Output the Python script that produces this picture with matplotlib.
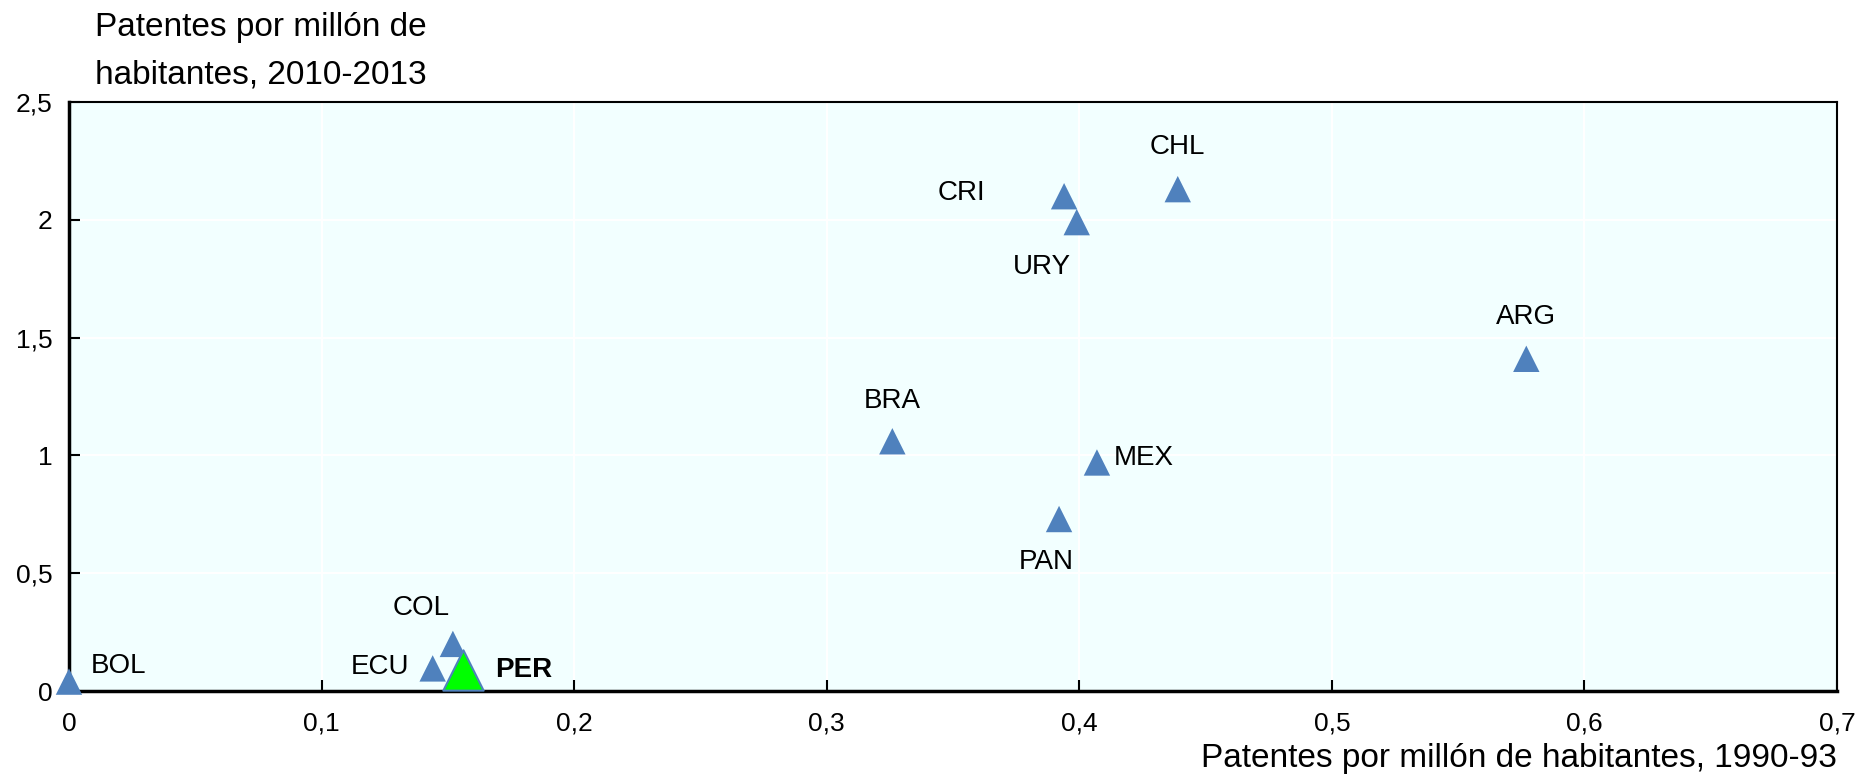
import matplotlib
matplotlib.use("Agg")
import matplotlib.pyplot as plt
from matplotlib import font_manager

names = {f.name for f in font_manager.fontManager.ttflist}
fam = "Liberation Sans Narrow" if "Liberation Sans Narrow" in names else "Liberation Sans"
plt.rcParams['font.family'] = [fam, 'DejaVu Sans']

countries = ["BOL", "ECU", "COL", "BRA", "CRI", "URY", "CHL", "MEX", "PAN", "ARG"]
x_1990 = [0.0, 0.144, 0.152, 0.326, 0.394, 0.399, 0.439, 0.407, 0.392, 0.577]
y_2010 = [0.04, 0.096, 0.20, 1.06, 2.10, 1.99, 2.13, 0.97, 0.73, 1.41]
label_offsets = [(36, 11), (-38, 1), (-23, 26), (0, 29), (-74, 2), (-25, -32), (0, 30), (34, 3), (-9, -31), (0, 30)]

per_name = "PER"
per_x = 0.156
per_y = 0.09

xticks = [0, 0.1, 0.2, 0.3, 0.4, 0.5, 0.6, 0.7]
xticklabels = ["0", "0,1", "0,2", "0,3", "0,4", "0,5", "0,6", "0,7"]
yticks = [0, 0.5, 1, 1.5, 2, 2.5]
yticklabels = ["0", "0,5", "1", "1,5", "2", "2,5"]

fig = plt.figure(figsize=(18.64, 7.76), dpi=100)
ax = fig.add_axes([0.037, 0.1095, 0.9485, 0.7591])
ax.set_facecolor('#F2FFFF')
ax.set_xlim(0, 0.7)
ax.set_ylim(0, 2.5)
ax.set_xticks(xticks)
ax.set_xticklabels(xticklabels)
ax.set_yticks(yticks)
ax.set_yticklabels(yticklabels)
ax.grid(True, color='white', lw=1.5)
ax.set_axisbelow(True)
ax.tick_params(direction='in', length=8, width=1.5, labelsize=19, colors='black')
ax.tick_params(axis='x', pad=15)
ax.tick_params(axis='y', pad=12)
for s in ax.spines.values():
    s.set_color('black')
    s.set_linewidth(1.5)
ax.spines['left'].set_linewidth(2.5)
ax.spines['bottom'].set_linewidth(2.5)

ax.scatter(x_1990, y_2010, marker='^', s=19**2, color='#4F81BD', edgecolors='none', zorder=3, clip_on=False)
ax.scatter([per_x], [per_y], marker='^', s=29**2, color='#00FF00', edgecolors='#4F81BD', linewidths=1.5, zorder=4, clip_on=False)

for name, x, y, (dx, dy) in zip(countries, x_1990, y_2010, label_offsets):
    ax.annotate(name, (x, y), xytext=(dx, dy), textcoords='offset points',
                ha='center', va='center', fontsize=20, color='black')
ax.annotate(per_name, (per_x, per_y), xytext=(44, 0), textcoords='offset points',
            ha='center', va='center', fontsize=20, fontweight='bold', color='black')

fig.text(0.051, 0.984, "Patentes por millón de\nhabitantes, 2010-2013", ha='left', va='top',
         fontsize=24, linespacing=1.65)
fig.text(0.9855, 0.022, "Patentes por millón de habitantes, 1990-93", ha='right', va='center',
         fontsize=24)

fig.savefig("out.png", dpi=100)
